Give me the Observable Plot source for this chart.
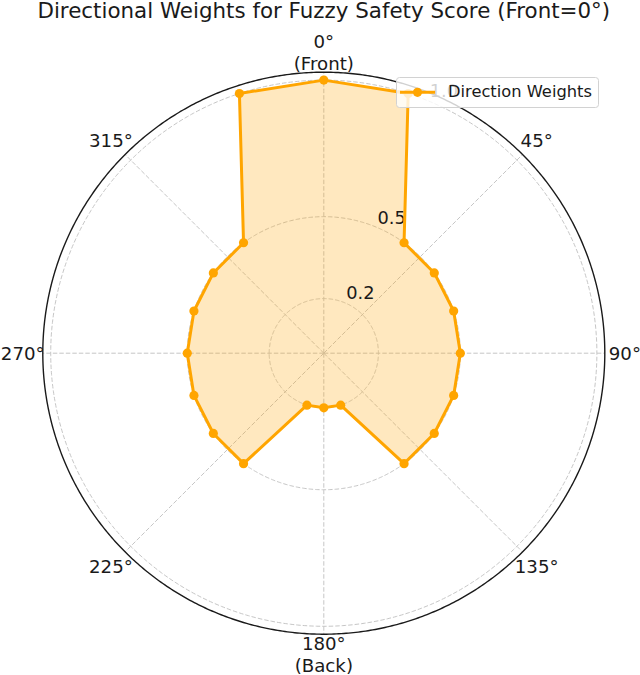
<!DOCTYPE html>
<html>
<head>
<meta charset="utf-8">
<script src="https://cdn.jsdelivr.net/npm/d3@7"></script>
<script src="https://cdn.jsdelivr.net/npm/@observablehq/plot@0.6"></script>
<style>
  html, body { margin: 0; padding: 0; background: #fff; }
  #wrap { position: relative; width: 640px; height: 675px; font-family: "DejaVu Sans", sans-serif; }
  #legend { position: absolute; left: 396px; top: 77px; }
</style>
</head>
<body>
<div id="wrap"></div>
<script>
// ---- data ----
const title = "Directional Weights for Fuzzy Safety Score (Front=0°)";
const seriesName = "Direction Weights";
const angles  = [0, 18, 36, 54, 72, 90, 108, 126, 144, 162, 180, 198, 216, 234, 252, 270, 288, 306, 324, 342];
const weights = [1.0, 1.0, 0.5, 0.5, 0.5, 0.5, 0.5, 0.5, 0.5, 0.2, 0.2, 0.2, 0.5, 0.5, 0.5, 0.5, 0.5, 0.5, 0.5, 1.0];
const radialTicks = [0.2, 0.5, 1.0];
const radialTickLabels = ["0.2", "0.5", "1.0"];
const thetaTicks = [0, 45, 90, 135, 180, 225, 270, 315];
const thetaTickLabels = ["0°\n(Front)", "45°", "90°", "135°", "180°\n(Back)", "225°", "270°", "315°"];

// ---- polar helpers (azimuthal projection centred on the pole) ----
const K = 2;            // degrees of latitude per unit of radius
const rMax = 1.029;     // outer edge of the polar axes
const rLabel = 1.1025;  // radius of the angular tick labels
const rLabelAngle = 22.5;
const lon = t => 180 - t;      // 0° at top, clockwise
const lat = r => 90 - r * K;
const circle = r => d3.geoCircle().center([0, 90]).radius(r * K).precision(0.5)();

const pts = angles.map((a, i) => ({angle: a, weight: weights[i]}));
const closed = [...pts, pts[0]];
const ring = closed.map(d => [lon(d.angle), lat(d.weight)]);
const polygon = {type: "Polygon", coordinates: [ring]};

const orange = "#FFA500";
const gridColor = "#c6c6c6";
const ink = "#1a1a1a";
const W = 640, H = 675;
const cx = 323.3, cy = 352.7, R = 281;  // centre and outer radius (px)
const S = 316;                           // half-size of the (square) frame
const rDomain = rMax * S / R;

const chart = Plot.plot({
  width: W,
  height: H,
  marginLeft: cx - S,
  marginRight: W - cx - S,
  marginTop: cy - S,
  marginBottom: H - cy - S,
  style: {fontFamily: "DejaVu Sans, sans-serif", background: "white", overflow: "visible"},
  projection: {
    type: "azimuthal-equidistant",
    rotate: [0, -90],
    domain: circle(rDomain)
  },
  marks: [
    // radial grid circles
    Plot.geo(radialTicks, {geometry: r => circle(r), fill: "none", stroke: gridColor, strokeWidth: 1, strokeDasharray: "4.5,2", strokeLinecap: "butt"}),
    // angular spokes
    Plot.geo(thetaTicks, {
      geometry: t => ({type: "LineString", coordinates: [[lon(t), 90], [lon(t), lat(rMax)]]}),
      stroke: gridColor, strokeWidth: 1, strokeDasharray: "4.5,2", strokeLinecap: "butt"
    }),
    // fill
    Plot.geo([polygon], {fill: orange, fillOpacity: 0.25, stroke: "none"}),
    // outer spine
    Plot.geo([rMax], {geometry: r => circle(r), fill: "none", stroke: ink, strokeWidth: 1.4}),
    // radial tick labels
    Plot.text(radialTicks, {
      x: () => lon(rLabelAngle), y: r => lat(r),
      text: (d, i) => radialTickLabels[i],
      textAnchor: "start", lineAnchor: "bottom", dx: 1.5, dy: -3.5,
      fontSize: 17.8, fill: ink
    }),
    // data line + markers
    Plot.line(closed, {x: d => lon(d.angle), y: d => lat(d.weight), stroke: orange, strokeWidth: 3, strokeLinejoin: "round"}),
    Plot.dot(pts, {x: d => lon(d.angle), y: d => lat(d.weight), r: 4.6, fill: orange, stroke: "none"}),
    // angular tick labels
    Plot.text(thetaTicks, {
      x: t => lon(t), y: () => lat(rLabel),
      text: (d, i) => thetaTickLabels[i],
      textAnchor: "middle", lineAnchor: "middle", lineHeight: 1.2,
      fontSize: 18.2, fill: ink
    }),
    // title
    Plot.text([title], {frameAnchor: "top", dy: 17.3 - (cy - S), lineAnchor: "bottom", fontSize: 21.4, fill: ink})
  ]
});

const wrap = document.getElementById("wrap");
wrap.appendChild(chart);

// legend
const lg = d3.create("svg").attr("id", "legend").attr("width", 204).attr("height", 32);
lg.append("rect").attr("x", 0.5).attr("y", 0.5).attr("width", 202).attr("height", 30)
  .attr("rx", 3).attr("fill", "white").attr("fill-opacity", 0.8).attr("stroke", "#d2d2d2").attr("stroke-width", 1);
lg.append("line").attr("x1", 4).attr("x2", 39).attr("y1", 15.3).attr("y2", 15.3)
  .attr("stroke", orange).attr("stroke-width", 3);
lg.append("circle").attr("cx", 21.5).attr("cy", 15.3).attr("r", 4.6).attr("fill", orange);
lg.append("text").attr("x", 52).attr("y", 20).attr("font-size", 16.3).attr("fill", ink)
  .attr("font-family", "DejaVu Sans, sans-serif").text(seriesName);
wrap.appendChild(lg.node());
</script>
</body>
</html>
